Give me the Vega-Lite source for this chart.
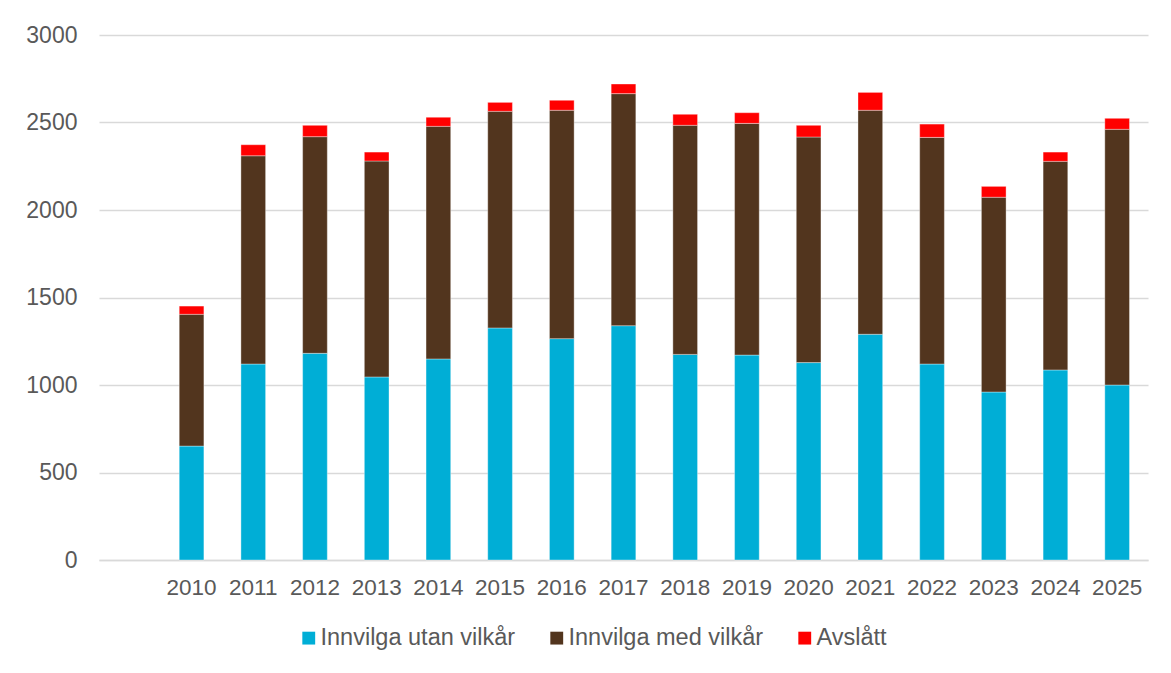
{
  "$schema": "https://vega.github.io/schema/vega-lite/v6.json",
  "width": 1049,
  "height": 525,
  "autosize": "none",
  "padding": {"left": 99, "top": 35, "right": 23, "bottom": 113},
  "background": "white",
  "config": {"view": {"stroke": null}, "font": "Liberation Sans"},
  "data": {
    "values": [
      {"year": "2010", "category": "Innvilga utan vilkår", "value": 651},
      {"year": "2010", "category": "Innvilga med vilkår", "value": 753},
      {"year": "2010", "category": "Avslått", "value": 47},
      {"year": "2011", "category": "Innvilga utan vilkår", "value": 1120},
      {"year": "2011", "category": "Innvilga med vilkår", "value": 1190},
      {"year": "2011", "category": "Avslått", "value": 63},
      {"year": "2012", "category": "Innvilga utan vilkår", "value": 1181},
      {"year": "2012", "category": "Innvilga med vilkår", "value": 1238},
      {"year": "2012", "category": "Avslått", "value": 65},
      {"year": "2013", "category": "Innvilga utan vilkår", "value": 1046},
      {"year": "2013", "category": "Innvilga med vilkår", "value": 1234},
      {"year": "2013", "category": "Avslått", "value": 51},
      {"year": "2014", "category": "Innvilga utan vilkår", "value": 1149},
      {"year": "2014", "category": "Innvilga med vilkår", "value": 1329},
      {"year": "2014", "category": "Avslått", "value": 52},
      {"year": "2015", "category": "Innvilga utan vilkår", "value": 1326},
      {"year": "2015", "category": "Innvilga med vilkår", "value": 1238},
      {"year": "2015", "category": "Avslått", "value": 51},
      {"year": "2016", "category": "Innvilga utan vilkår", "value": 1265},
      {"year": "2016", "category": "Innvilga med vilkår", "value": 1305},
      {"year": "2016", "category": "Avslått", "value": 57},
      {"year": "2017", "category": "Innvilga utan vilkår", "value": 1339},
      {"year": "2017", "category": "Innvilga med vilkår", "value": 1326},
      {"year": "2017", "category": "Avslått", "value": 55},
      {"year": "2018", "category": "Innvilga utan vilkår", "value": 1175},
      {"year": "2018", "category": "Innvilga med vilkår", "value": 1309},
      {"year": "2018", "category": "Avslått", "value": 63},
      {"year": "2019", "category": "Innvilga utan vilkår", "value": 1171},
      {"year": "2019", "category": "Innvilga med vilkår", "value": 1324},
      {"year": "2019", "category": "Avslått", "value": 61},
      {"year": "2020", "category": "Innvilga utan vilkår", "value": 1128},
      {"year": "2020", "category": "Innvilga med vilkår", "value": 1289},
      {"year": "2020", "category": "Avslått", "value": 67},
      {"year": "2021", "category": "Innvilga utan vilkår", "value": 1290},
      {"year": "2021", "category": "Innvilga med vilkår", "value": 1280},
      {"year": "2021", "category": "Avslått", "value": 102},
      {"year": "2022", "category": "Innvilga utan vilkår", "value": 1120},
      {"year": "2022", "category": "Innvilga med vilkår", "value": 1295},
      {"year": "2022", "category": "Avslått", "value": 76},
      {"year": "2023", "category": "Innvilga utan vilkår", "value": 960},
      {"year": "2023", "category": "Innvilga med vilkår", "value": 1113},
      {"year": "2023", "category": "Avslått", "value": 62},
      {"year": "2024", "category": "Innvilga utan vilkår", "value": 1086},
      {"year": "2024", "category": "Innvilga med vilkår", "value": 1192},
      {"year": "2024", "category": "Avslått", "value": 53},
      {"year": "2025", "category": "Innvilga utan vilkår", "value": 1000},
      {"year": "2025", "category": "Innvilga med vilkår", "value": 1461},
      {"year": "2025", "category": "Avslått", "value": 63}
    ]
  },
  "mark": {"type": "bar", "stroke": "white", "strokeWidth": 0.6, "strokeOpacity": 0.6},
  "encoding": {
    "x": {
      "field": "year",
      "type": "nominal",
      "scale": {
        "domain": [" ", "2010", "2011", "2012", "2013", "2014", "2015", "2016", "2017", "2018", "2019", "2020", "2021", "2022", "2023", "2024", "2025"],
        "paddingInner": 0.6,
        "paddingOuter": 0.3
      },
      "axis": {
        "title": null,
        "labelAngle": 0,
        "ticks": false,
        "domain": true,
        "domainColor": "#D9D9D9",
        "domainWidth": 1.5,
        "labelFontSize": 22.5,
        "labelColor": "#595959",
        "labelPadding": 16
      }
    },
    "y": {
      "field": "value",
      "type": "quantitative",
      "stack": "zero",
      "scale": {"domain": [0, 3000], "nice": false},
      "axis": {
        "title": null,
        "values": [0, 500, 1000, 1500, 2000, 2500, 3000],
        "format": "d",
        "domain": false,
        "ticks": false,
        "grid": true,
        "gridColor": "#D9D9D9",
        "gridWidth": 1.5,
        "labelFontSize": 23,
        "labelColor": "#595959",
        "labelPadding": 22
      }
    },
    "color": {
      "field": "category",
      "type": "nominal",
      "sort": ["Innvilga utan vilkår", "Innvilga med vilkår", "Avslått"],
      "scale": {
        "domain": ["Innvilga utan vilkår", "Innvilga med vilkår", "Avslått"],
        "range": ["#00AED6", "#52351E", "#FF0000"]
      },
      "legend": {
        "title": null,
        "orient": "none",
        "direction": "horizontal",
        "legendX": 198,
        "legendY": 591,
        "symbolType": "square",
        "symbolSize": 165,
        "symbolStrokeWidth": 0,
        "labelFontSize": 23.5,
        "labelLimit": 500,
        "labelColor": "#595959",
        "labelOffset": 0,
        "columnPadding": 29
      }
    }
  }
}
